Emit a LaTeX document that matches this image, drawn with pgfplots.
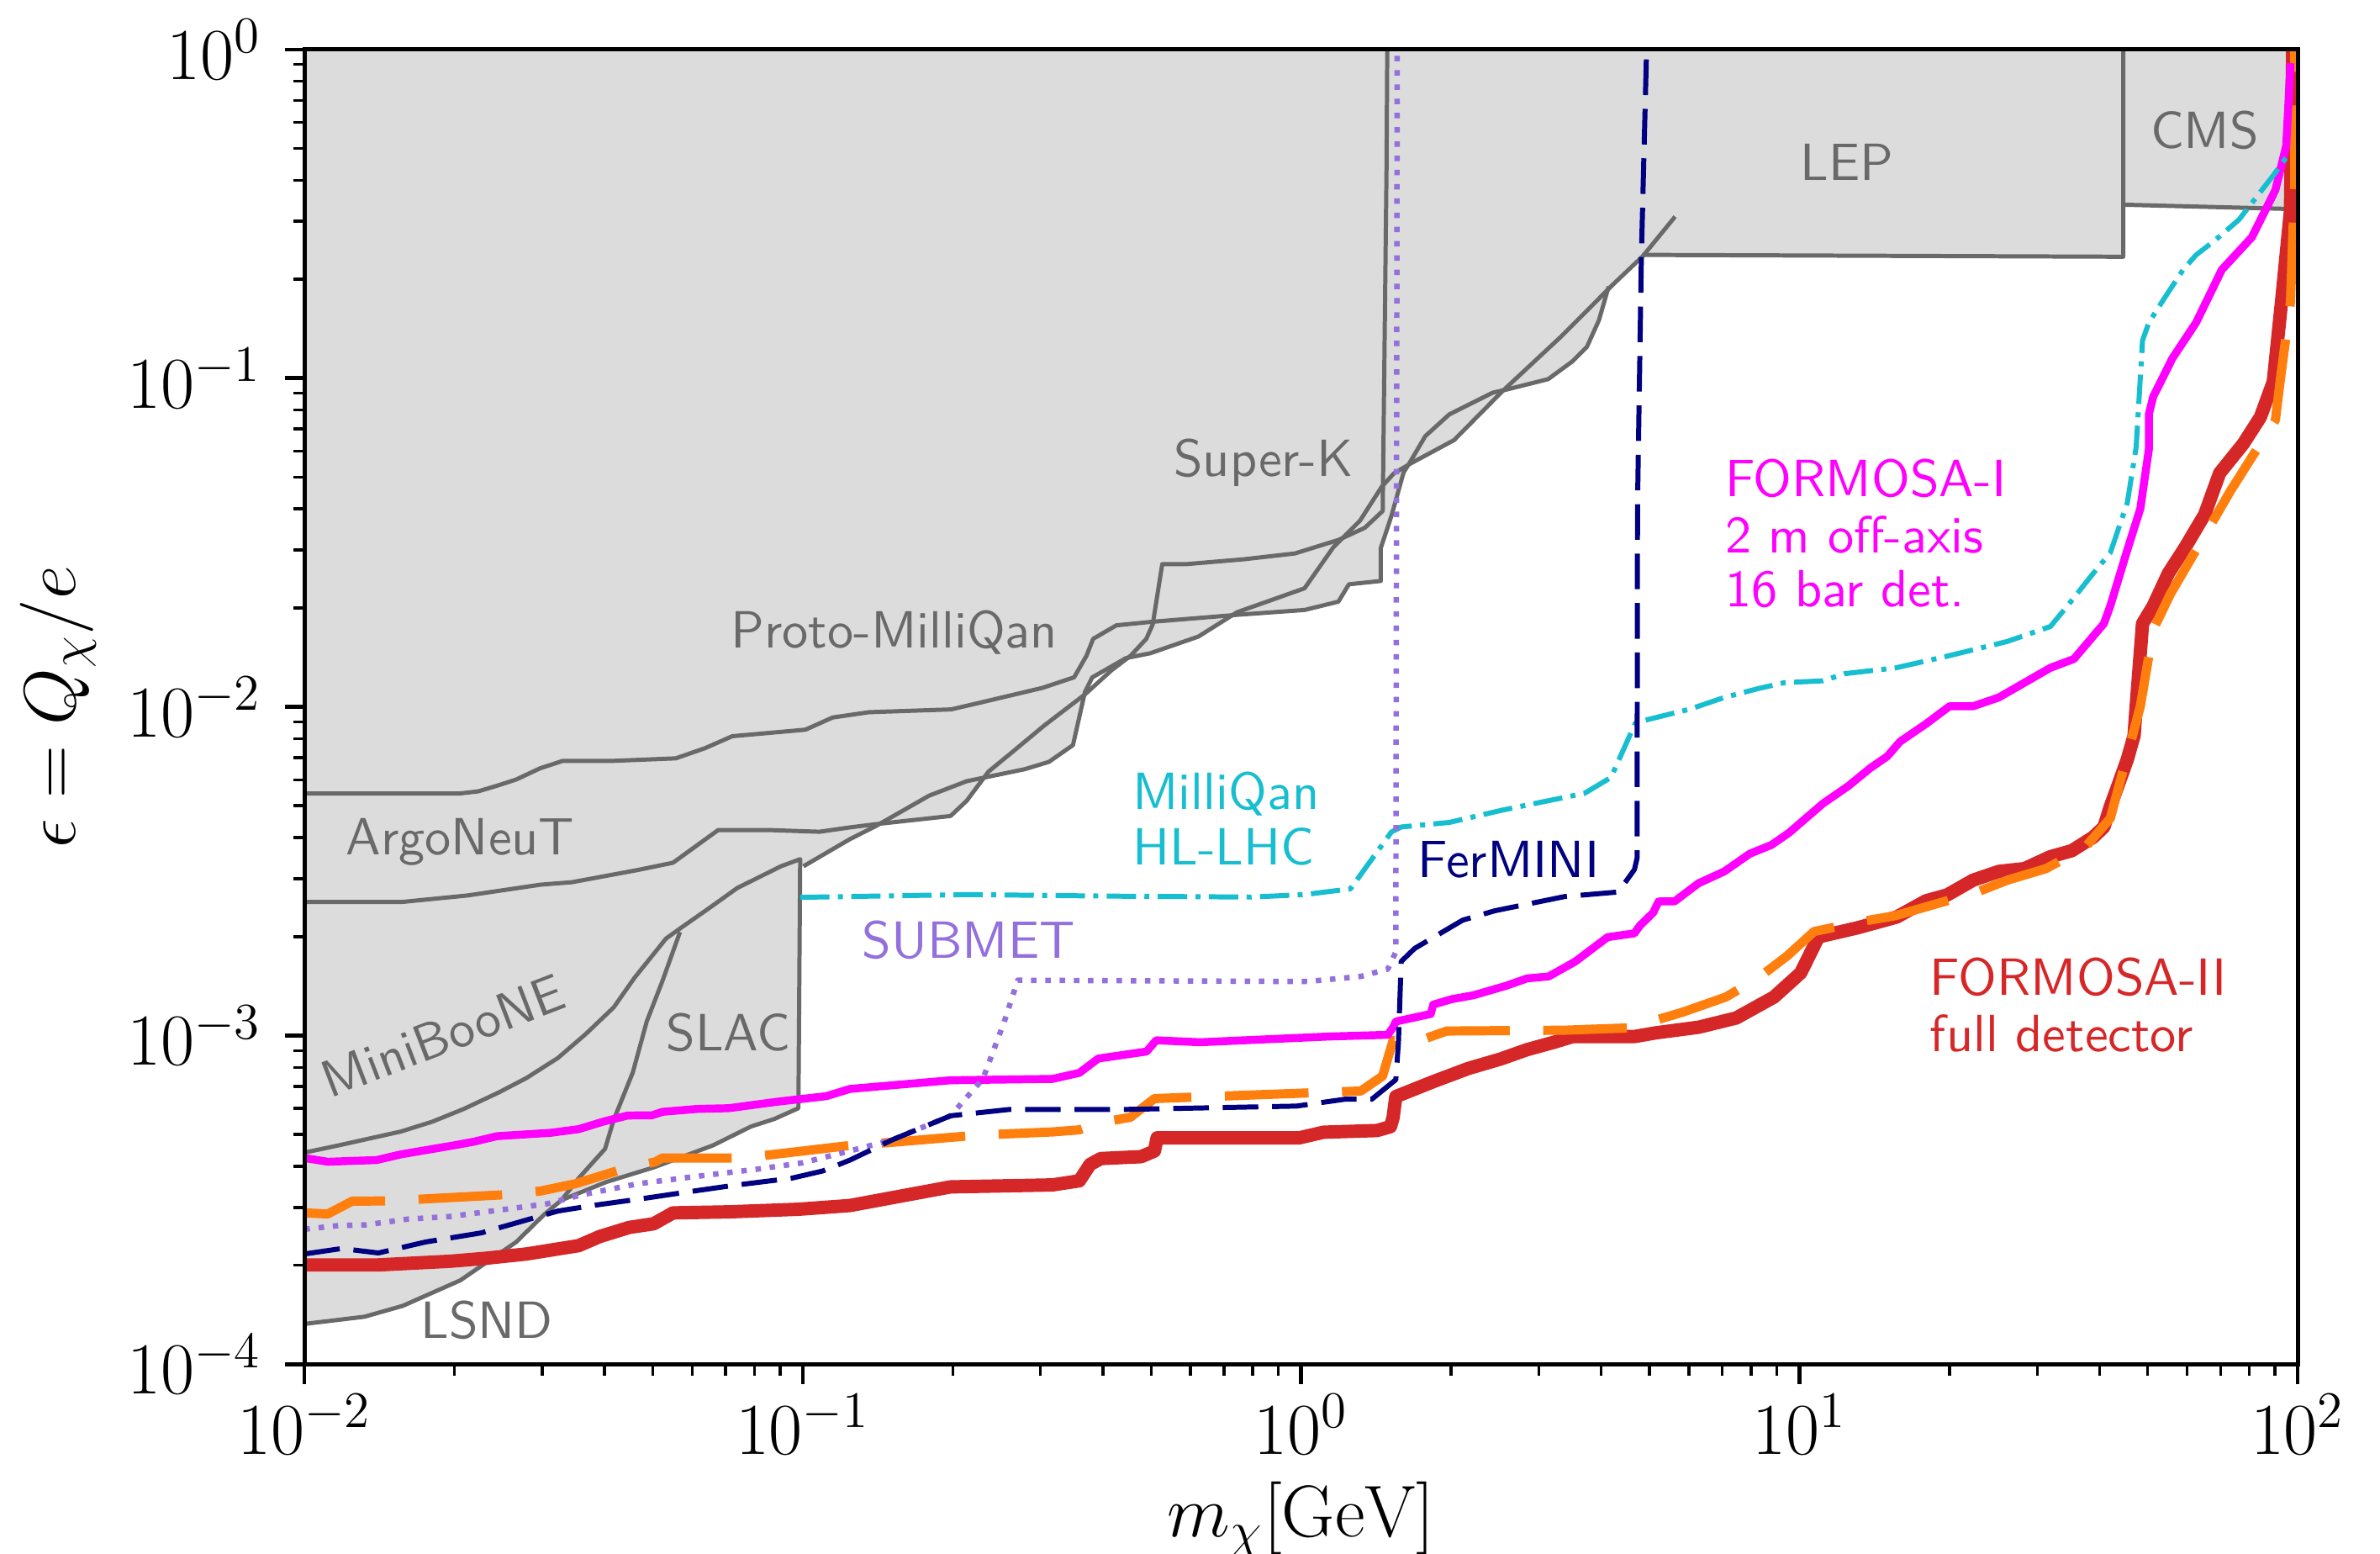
\RequirePackage{fix-cm}
\documentclass[border=0pt]{standalone}
\usepackage{pgfplots}
\pgfplotsset{compat=1.18}
\definecolor{gfill}{RGB}{220,220,220}
\definecolor{gline}{RGB}{105,105,105}
\definecolor{fmag}{RGB}{255,0,255}
\definecolor{fred}{RGB}{214,39,40}
\definecolor{forange}{RGB}{255,127,14}
\definecolor{fcyan}{RGB}{23,190,207}
\definecolor{fnavy}{RGB}{0,0,128}
\definecolor{fpurple}{RGB}{147,112,219}
\DeclareFontFamily{TU}{lmssx}{}
\DeclareFontShape{TU}{lmssx}{m}{n}{<-> "[lmsans10-regular]:+tlig;"}{}
\newcommand\annot{\fontfamily{lmssx}\fontsize{12.5}{14}\selectfont}
\begin{document}
\begin{tikzpicture}
\useasboundingbox (0,0) rectangle (566.2bp,369.6bp);
\begin{axis}[
  at={(72.44bp,45.14bp)}, anchor=south west,
  scale only axis, width=474.2bp, height=312.7bp,
  xmode=log, ymode=log,
  xmin=1e-2, xmax=1e2, ymin=1e-4, ymax=1,
  axis on top,
  tick align=outside, tick pos=left,
  major tick length=4.7bp, minor tick length=2.7bp,
  every major tick/.append style={line width=0.9pt, black},
  every minor tick/.append style={line width=0.7pt, black},
  axis line style={line width=1pt},
  tick label style={font=\fontsize{17.5}{21}\selectfont},
  xticklabel style={inner sep=2.3bp},
  yticklabel style={inner sep=5.3bp},
  label style={font=\fontsize{17.5}{21}\selectfont},
  xlabel={$m_\chi[\mathrm{GeV}]$},
  ylabel={$\epsilon = Q_\chi/e$},
  xlabel style={at={(axis description cs:0.5,-0.1314)}, anchor=base},
  ylabel style={at={(axis description cs:-0.1151,0.5)}, anchor=base},
]
% union of existing constraints (grey)
\addplot[fill=gfill, draw=none] coordinates {
(0.01,1) (0.01,1.326e-4) (0.0132,1.395e-4) (0.01576,1.506e-4) (0.02055,1.80e-4) (0.0266,2.354e-4) (0.03025,2.851e-4) (0.0328,3.157e-4) (0.0404,3.587e-4) (0.0502,3.97e-4) (0.066,4.63e-4) (0.0788,5.29e-4) (0.0876,5.57e-4) (0.098,6.01e-4) (0.0988,3.30e-3) (0.1003,3.273e-3) (0.1244,3.96e-3) (0.1431,4.41e-3) (0.198,4.655e-3) (0.2133,5.18e-3) (0.2305,6.16e-3) (0.2788,6.46e-3) (0.3118,6.80e-3) (0.3485,7.65e-3) (0.3684,1.110e-2) (0.381,1.229e-2) (0.4452,1.407e-2) (0.4977,1.455e-2) (0.6222,1.636e-2) (0.7183,1.892e-2) (0.7437,1.905e-2) (1.016,1.971e-2) (1.188,2.089e-2) (1.247,2.359e-2) (1.445,2.415e-2) (1.445,3.04e-2) (1.518,3.81e-2) (1.606,5.17e-2) (1.649,5.465e-2) (2.028,6.48e-2) (2.538,9.13e-2) (2.592,9.24e-2) (3.132,9.93e-2) (3.505,0.1125) (3.746,0.1245) (3.96,0.150) (4.142,0.190) (4.233,0.1932) (4.84,0.2342) (4.84,0.2371) (44.64,0.234) (44.64,0.337) (96.7,0.327) (100,0.327) (100,1)
} -- cycle;
% constraint boundaries
\pgfplotsset{gl/.style={gline, line width=1.0pt, line join=round}}
\addplot[gl] coordinates {
(0.01,5.45e-3) (0.0205,5.45e-3) (0.0223,5.53e-3) (0.0244,5.76e-3) (0.0266,6.01e-3) (0.0297,6.50e-3) (0.0330,6.85e-3) (0.0418,6.85e-3) (0.0556,6.97e-3) (0.0637,7.49e-3) (0.0722,8.14e-3) (0.1012,8.52e-3) (0.1148,9.28e-3) (0.1358,9.63e-3) (0.1984,9.82e-3) (0.2253,1.027e-2) (0.3027,1.142e-2) (0.3504,1.230e-2) (0.371,1.431e-2) (0.3826,1.610e-2) (0.4259,1.770e-2) (0.4977,1.812e-2) (0.7437,1.905e-2) (1.016,1.971e-2) (1.188,2.089e-2) (1.247,2.359e-2) (1.445,2.415e-2) (1.445,3.04e-2) (1.518,3.81e-2) (1.606,5.17e-2) (1.641,5.44e-2) (1.775,6.66e-2) (1.984,7.76e-2) (2.424,9.03e-2) (2.592,9.24e-2) (3.132,9.93e-2) (3.505,0.1125) (3.746,0.1245) (3.96,0.150) (4.142,0.190)
};
\addplot[gl] coordinates {
(0.01,2.547e-3) (0.01562,2.547e-3) (0.02122,2.667e-3) (0.02977,2.877e-3) (0.0344,2.927e-3) (0.04672,3.19e-3) (0.0549,3.355e-3) (0.06766,4.22e-3) (0.08475,4.22e-3) (0.108,4.168e-3) (0.1244,4.298e-3) (0.14,4.395e-3) (0.198,4.655e-3) (0.2133,5.18e-3) (0.2358,6.35e-3) (0.2666,7.40e-3) (0.3048,8.76e-3) (0.3684,1.091e-2) (0.4165,1.292e-2) (0.455,1.431e-2) (0.489,1.610e-2) (0.5037,1.781e-2) (0.5264,2.717e-2) (0.5883,2.717e-2) (0.7687,2.812e-2) (0.9716,2.928e-2) (1.188,3.219e-2) (1.342,3.504e-2) (1.458,3.943e-2) (1.484,0.4348) (1.489,1)
};
\addplot[gl] coordinates {
(0.1003,3.273e-3) (0.1244,3.96e-3) (0.14,4.334e-3) (0.1794,5.37e-3) (0.2133,5.94e-3) (0.2788,6.46e-3) (0.3118,6.80e-3) (0.3485,7.65e-3) (0.3684,1.110e-2) (0.381,1.229e-2) (0.4452,1.407e-2) (0.4977,1.455e-2) (0.6222,1.636e-2) (0.7437,1.940e-2) (1.016,2.294e-2) (1.161,3.061e-2) (1.313,3.687e-2) (1.451,4.67e-2) (1.535,5.13e-2) (1.659,5.50e-2) (2.028,6.48e-2) (2.534,9.12e-2) (3.314,0.1332) (4.233,0.1932) (4.84,0.2342) (5.63,0.31)
};
\addplot[gl] coordinates {
(0.01,4.405e-4) (0.01169,4.63e-4) (0.01562,5.105e-4) (0.01806,5.47e-4) (0.02088,5.98e-4) (0.02453,6.71e-4) (0.02791,7.43e-4) (0.03227,8.55e-4) (0.03667,1.010e-3) (0.04174,1.218e-3) (0.04597,1.500e-3) (0.05316,1.973e-3) (0.0567,2.116e-3) (0.0655,2.466e-3) (0.07386,2.81e-3) (0.0904,3.273e-3) (0.0988,3.44e-3) (0.098,6.01e-4) (0.0876,5.57e-4) (0.0788,5.29e-4) (0.066,4.63e-4) (0.0502,3.97e-4) (0.0404,3.587e-4) (0.0328,3.157e-4) (0.03025,2.851e-4) (0.0266,2.354e-4) (0.02055,1.80e-4) (0.01576,1.506e-4) (0.0132,1.395e-4) (0.01,1.326e-4)
};
\addplot[gl] coordinates {
(0.0567,2.065e-3) (0.05226,1.463e-3) (0.04863,1.104e-3) (0.04559,7.72e-4) (0.04174,5.54e-4) (0.0401,4.52e-4) (0.0355,3.68e-4) (0.0328,3.157e-4)
};
\addplot[gl] coordinates {(4.84,0.2371) (44.64,0.234) (44.64,1)};
\addplot[gl] coordinates {(44.64,0.337) (96.7,0.327)};
% FORMOSA-II (red)
\addplot[fred, line width=3.2pt, line join=round] coordinates {
(0.01,2.005e-4) (0.01407,2.005e-4) (0.01958,2.057e-4) (0.0230,2.099e-4) (0.02791,2.165e-4) (0.0355,2.295e-4) (0.03913,2.446e-4) (0.04485,2.607e-4) (0.0502,2.675e-4) (0.0549,2.887e-4) (0.071,2.908e-4) (0.098,2.961e-4) (0.1244,3.04e-4) (0.198,3.464e-4) (0.317,3.512e-4) (0.3589,3.614e-4) (0.3771,4.053e-4) (0.3963,4.224e-4) (0.4775,4.28e-4) (0.5077,4.452e-4) (0.5141,4.883e-4) (0.9915,4.883e-4) (1.109,5.08e-4) (1.42,5.14e-4) (1.511,5.28e-4) (1.53,5.64e-4) (1.549,6.52e-4) (1.842,7.24e-4) (2.165,7.94e-4) (2.512,8.48e-4) (2.842,9.06e-4) (3.217,9.54e-4) (3.509,9.93e-4) (4.666,9.93e-4) (5.151,1.019e-3) (6.28,1.060e-3) (7.47,1.131e-3) (8.89,1.309e-3) (10.06,1.551e-3) (10.92,1.996e-3) (13.1,2.128e-3) (15.67,2.293e-3) (17.94,2.569e-3) (19.8,2.678e-3) (22.31,2.969e-3) (25.13,3.157e-3) (28.3,3.22e-3) (31.88,3.50e-3) (35.2,3.65e-3) (38.85,4.01e-3) (40.83,4.31e-3) (42.06,4.97e-3) (43.77,5.87e-3) (45.5,6.92e-3) (46.94,8.17e-3) (47.4,1.004e-2) (48.81,1.791e-2) (51.29,2.028e-2) (54.98,2.544e-2) (59.5,3.064e-2) (65.06,3.85e-2) (69.7,5.14e-2) (77.8,6.32e-2) (84.14,7.61e-2) (89.33,9.75e-2) (92.9,0.1739) (96.7,0.3231) (97.66,0.946) (97.7,1)
};
% orange dashed
\addplot[forange, line width=2.2pt, line join=round, dash pattern=on 20pt off 8pt] coordinates {
(0.01,2.887e-4) (0.01114,2.866e-4) (0.01246,3.133e-4) (0.01465,3.14e-4) (0.02535,3.28e-4) (0.02977,3.365e-4) (0.03498,3.541e-4) (0.04345,3.92e-4) (0.0506,4.127e-4) (0.05226,4.24e-4) (0.0751,4.24e-4) (0.0876,4.35e-4) (0.1244,4.63e-4) (0.1528,4.74e-4) (0.2242,4.977e-4) (0.317,5.09e-4) (0.3589,5.165e-4) (0.3916,5.42e-4) (0.4543,5.64e-4) (0.5077,6.43e-4) (1.318,6.78e-4) (1.457,7.53e-4) (1.53,9.67e-4) (1.69,9.54e-4) (1.96,1.032e-3) (3.379,1.038e-3) (4.552,1.055e-3) (4.904,1.089e-3) (5.833,1.178e-3) (7.113,1.309e-3) (8.245,1.492e-3) (9.454,1.748e-3) (10.7,2.072e-3) (13.32,2.223e-3) (15.61,2.317e-3) (22.75,2.733e-3) (26.14,2.969e-3) (31.24,3.22e-3) (37.36,3.723e-3) (42.06,4.58e-3) (48.32,1.004e-2) (51.29,1.718e-2) (55.5,2.202e-2) (67.7,3.69e-2) (73.3,4.54e-2) (90.19,7.46e-2) (91.99,9.55e-2) (96.7,0.1703) (98.6,0.3972) (98.6,1)
};
% FORMOSA-I (magenta)
\addplot[fmag, line width=1.9pt, line join=round] coordinates {
(0.01,4.24e-4) (0.01114,4.13e-4) (0.01396,4.18e-4) (0.01562,4.35e-4) (0.0199,4.63e-4) (0.0219,4.755e-4) (0.02433,4.94e-4) (0.03123,5.06e-4) (0.0355,5.19e-4) (0.03977,5.47e-4) (0.04451,5.71e-4) (0.04984,5.72e-4) (0.0523,5.86e-4) (0.0614,5.98e-4) (0.071,6.01e-4) (0.0889,6.29e-4) (0.1115,6.54e-4) (0.1244,6.88e-4) (0.198,7.31e-4) (0.317,7.38e-4) (0.3589,7.70e-4) (0.3916,8.51e-4) (0.4462,8.76e-4) (0.4897,8.94e-4) (0.5118,9.67e-4) (0.6274,9.54e-4) (1.136,9.93e-4) (1.493,1.005e-3) (1.530,1.060e-3) (1.549,1.103e-3) (1.820,1.163e-3) (1.842,1.242e-3) (2.010,1.291e-3) (2.218,1.326e-3) (2.575,1.416e-3) (2.842,1.492e-3) (3.14,1.513e-3) (3.551,1.68e-3) (4.121,1.992e-3) (4.666,2.046e-3) (4.782,2.158e-3) (5.087,2.364e-3) (5.217,2.558e-3) (5.617,2.56e-3) (6.273,2.905e-3) (7.069,3.157e-3) (7.955,3.575e-3) (8.786,3.80e-3) (9.515,4.13e-3) (11.15,5.08e-3) (12.55,5.75e-3) (13.87,6.51e-3) (15.01,7.07e-3) (15.92,7.84e-3) (17.94,8.87e-3) (20.01,1.004e-2) (22.31,1.004e-2) (25.13,1.068e-2) (31.88,1.314e-2) (35.54,1.398e-2) (40.83,1.791e-2) (42.06,2.028e-2) (45.5,3.003e-2) (48.32,4.01e-2) (50.25,6.06e-2) (50.25,7.76e-2) (51.29,8.79e-2) (56.08,0.1151) (62.5,0.1474) (70.41,0.2137) (80.91,0.2684) (90.19,0.3735) (94.8,0.5089) (96.7,0.908)
};
% MilliQan HL-LHC (cyan dash-dot)
\addplot[fcyan, line width=1.2pt, line join=round, dash pattern=on 7pt off 2pt on 1.2pt off 2pt] coordinates {
(0.0988,2.633e-3) (0.2133,2.684e-3) (0.4165,2.655e-3) (0.7953,2.638e-3) (1.016,2.684e-3) (1.256,2.794e-3) (1.518,4.163e-3) (1.588,4.31e-3) (1.984,4.45e-3) (2.534,4.85e-3) (3.704,5.455e-3) (4.188,6.10e-3) (4.682,8.91e-3) (4.84,9.06e-3) (6.03,9.84e-3) (7.069,1.068e-2) (8.28,1.137e-2) (9.32,1.184e-2) (11.15,1.20e-2) (12.31,1.261e-2) (15.61,1.314e-2) (19.8,1.426e-2) (26.14,1.581e-2) (31.88,1.755e-2) (34.5,2.028e-2) (38.85,2.544e-2) (42.06,2.943e-2) (45.5,4.18e-2) (47.4,6.18e-2) (48.81,0.1302) (50.25,0.1474) (53.85,0.1739) (58.88,0.2137) (62.5,0.2369) (68.33,0.263) (76.23,0.3035) (89.33,0.4141) (96.7,0.4884)
};
% SUBMET (purple dotted)
\addplot[fpurple, line width=1.3pt, line join=round, dash pattern=on 1.3pt off 2.1pt] coordinates {
(0.01,2.574e-4) (0.01169,2.641e-4) (0.0133,2.655e-4) (0.01613,2.764e-4) (0.01958,2.814e-4) (0.02376,2.924e-4) (0.03074,3.078e-4) (0.03612,3.28e-4) (0.04672,3.541e-4) (0.0614,3.731e-4) (0.0808,3.92e-4) (0.0996,4.096e-4) (0.1244,4.457e-4) (0.1509,4.81e-4) (0.198,5.70e-4) (0.2298,7.38e-4) (0.2536,1.100e-3) (0.27,1.473e-3) (1.029,1.46e-3) (1.318,1.513e-3) (1.493,1.593e-3) (1.549,1.795e-3) (1.559,1)
};
% FerMINI (navy dashed)
\addplot[fnavy, line width=1.2pt, line join=round, dash pattern=on 8.5pt off 3.3pt] coordinates {
(0.01,2.165e-4) (0.01188,2.249e-4) (0.01407,2.18e-4) (0.01749,2.354e-4) (0.02262,2.509e-4) (0.02702,2.709e-4) (0.03224,2.924e-4) (0.03787,3.04e-4) (0.04826,3.199e-4) (0.0585,3.34e-4) (0.0722,3.496e-4) (0.0949,3.68e-4) (0.1097,3.873e-4) (0.1244,4.18e-4) (0.1509,4.81e-4) (0.198,5.70e-4) (0.2601,5.96e-4) (0.4462,5.96e-4) (0.979,6.10e-4) (1.223,6.40e-4) (1.386,6.40e-4) (1.549,7.34e-4) (1.568,9.54e-4) (1.588,1.68e-3) (1.69,1.841e-3) (2.11,2.244e-3) (2.449,2.397e-3) (3.379,2.647e-3) (4.33,2.733e-3) (4.666,3.2e-3) (4.722,3.463e-3) (4.732,4.08e-2) (4.818,0.2367) (4.935,1)
};
% labels
\begin{scope}[every node/.style={inner sep=0pt, font=\annot}]
\node[gline, anchor=base] at (axis cs:2.055e-2,3.556e-3) {ArgoNeuT};
\node[gline, anchor=base] at (axis cs:0.1526,1.512e-2) {Proto-MilliQan};
\node[gline, anchor=base] at (axis cs:0.841,5.03e-2) {Super-K};
\node[gline, anchor=base] at (axis cs:2.323e-2,1.202e-4) {LSND};
\node[gline, anchor=base] at (axis cs:7.094e-2,9.0e-4) {SLAC};
\node[gline, anchor=center, rotate=21] at (axis cs:1.896e-2,9.97e-4) {MiniBooNE};
\node[gline, anchor=base] at (axis cs:12.45,0.4006) {LEP};
\node[gline, anchor=base] at (axis cs:65.06,0.4988) {CMS};
\node[fcyan, anchor=base west] at (axis cs:0.4575,4.883e-3) {MilliQan};
\node[fcyan, anchor=base west] at (axis cs:0.4575,3.308e-3) {HL-LHC};
\node[fnavy, anchor=base] at (axis cs:2.607,3.02e-3) {FerMINI};
\node[fpurple, anchor=base] at (axis cs:0.2152,1.715e-3) {SUBMET};
\node[fmag, anchor=base west] at (axis cs:7.069,4.353e-2) {FORMOSA-I};
\node[fmag, anchor=base west] at (axis cs:7.069,2.94e-2) {2 m off-axis};
\node[fmag, anchor=base west] at (axis cs:7.069,2.011e-2) {16 bar det.};
\node[fred, anchor=base west] at (axis cs:18.23,1.327e-3) {FORMOSA-II};
\node[fred, anchor=base west] at (axis cs:18.23,8.96e-4) {full detector};
\end{scope}
\end{axis}
\end{tikzpicture}
\end{document}
